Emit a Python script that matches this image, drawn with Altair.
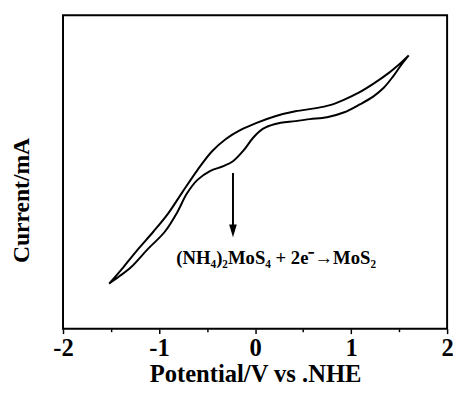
import altair as alt
import pandas as pd

# Forward scan (upper branch), potential in V, current in arbitrary mA units
upper_x = [-1.52, -1.37, -1.22, -1.06, -0.91, -0.76, -0.60, -0.45, -0.30, -0.15, 0.01,
           0.21, 0.42, 0.62, 0.77, 0.93, 1.08, 1.23, 1.39, 1.49, 1.60]
upper_y = [-1.14, -0.97, -0.79, -0.61, -0.43, -0.21, 0.02, 0.21, 0.34, 0.43, 0.50,
           0.57, 0.62, 0.65, 0.68, 0.74, 0.81, 0.90, 1.01, 1.09, 1.19]
# Reverse scan (lower branch)
lower_x = [1.60, 1.52, 1.44, 1.34, 1.23, 1.09, 0.93, 0.75, 0.57, 0.42, 0.21, 0.08, -0.02,
           -0.12, -0.23, -0.33, -0.47, -0.60, -0.71, -0.81, -0.94, -1.12, -1.29, -1.42, -1.52]
lower_y = [1.19, 1.09, 0.98, 0.86, 0.77, 0.69, 0.61, 0.56, 0.54, 0.52, 0.49, 0.44, 0.35,
           0.22, 0.11, 0.06, 0.01, -0.08, -0.22, -0.41, -0.61, -0.79, -0.97, -1.07, -1.14]

arrow_x = [-0.23]
arrow_top = [-0.01]
arrow_bottom = [-0.55]
arrow_head = [-0.60]
label_x = [0.22]
label_y = [-0.94]
label_text = ["(NH\u2084)\u2082MoS\u2084 + 2e\u207b\u2192MoS\u2082"]

x_ticks = [-2, -1.5, -1, -0.5, 0, 0.5, 1, 1.5, 2]

FONT = "Liberation Serif, Times New Roman, serif"

xs = upper_x + lower_x
ys = upper_y + lower_y
curve = pd.DataFrame({"x": xs, "y": ys, "o": list(range(len(xs)))})

x_axis = alt.Axis(
    title="Potential/V vs .NHE", values=x_ticks, grid=False, domain=False,
    labelExpr="datum.value % 1 === 0 ? '' + datum.value : ''",
    tickSize={"condition": {"test": "datum.value % 1 === 0", "value": 5}, "value": 3},
    tickColor="black", tickWidth=1.5,
    labelFont=FONT, labelFontSize=25, labelFontWeight="bold", labelColor="black",
    labelPadding=2, labelFlush=False,
    titleFont=FONT, titleFontSize=25, titleFontWeight="bold", titleColor="black",
    titlePadding=2,
)
y_axis = alt.Axis(
    title="Current/mA", labels=False, ticks=False, grid=False, domain=False,
    titleFont=FONT, titleFontSize=24, titleFontWeight="bold", titleColor="black",
    titlePadding=30, titleY=188,
)
xsc = alt.Scale(domain=[-2, 2], nice=False, zero=False)
ysc = alt.Scale(domain=[-1.6, 1.6], nice=False, zero=False)

line = alt.Chart(curve).mark_line(color="black", strokeWidth=2, interpolate="catmull-rom").encode(
    x=alt.X("x:Q", scale=xsc, axis=x_axis),
    y=alt.Y("y:Q", scale=ysc, axis=y_axis),
    order="o:Q",
)

arrow_df = pd.DataFrame({"x": arrow_x, "y": arrow_top, "y2": arrow_bottom})
shaft = alt.Chart(arrow_df).mark_rule(color="black", strokeWidth=2).encode(
    x=alt.X("x:Q", scale=xsc, axis=x_axis),
    y=alt.Y("y:Q", scale=ysc, axis=y_axis),
    y2="y2:Q",
)
head_df = pd.DataFrame({"x": arrow_x, "y": arrow_head})
head = alt.Chart(head_df).mark_point(
    shape="M-0.6,-1L0.6,-1L0,1Z", filled=True, color="black", opacity=1, size=169
).encode(
    x=alt.X("x:Q", scale=xsc, axis=x_axis),
    y=alt.Y("y:Q", scale=ysc, axis=y_axis),
)
text_df = pd.DataFrame({"x": label_x, "y": label_y, "t": label_text})
text = alt.Chart(text_df).mark_text(
    font=FONT, fontSize=19, fontWeight="bold", color="black", baseline="alphabetic", align="center"
).encode(
    x=alt.X("x:Q", scale=xsc, axis=x_axis),
    y=alt.Y("y:Q", scale=ysc, axis=y_axis),
    text="t:N",
)

chart = (line + shaft + head + text).properties(
    width=391, height=319,
    autosize=alt.AutoSizeParams(type="none"),
    padding={"left": 56, "top": 4, "right": 6, "bottom": 63},
).configure(background="white").configure_view(stroke="black", strokeWidth=2)

chart.save("out.html", embed_options={"renderer": "svg", "actions": False})
